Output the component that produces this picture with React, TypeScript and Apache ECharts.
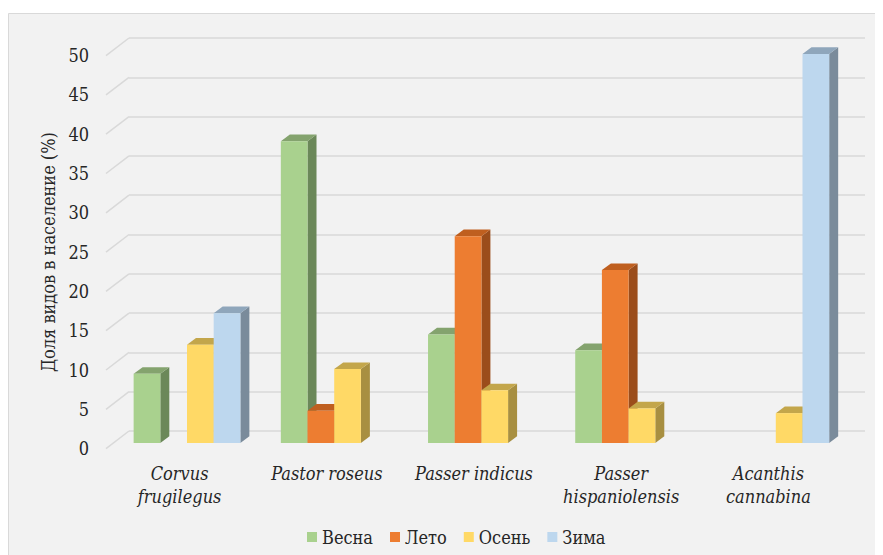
import React, { useEffect, useRef } from "react";
import * as echarts from "echarts";

// Species (two-line labels where the name wraps)
const categories = [
  "Corvus\nfrugilegus",
  "Pastor roseus",
  "Passer indicus",
  "Passer\nhispaniolensis",
  "Acanthis\ncannabina",
];

const seasons = ["Весна", "Лето", "Осень", "Зима"];

// Share of species in the population, %, per season
const spring = [8.8, 38.4, 13.8, 11.8, null];
const summer = [null, 4.1, 26.3, 22.0, null];
const autumn = [12.5, 9.4, 6.7, 4.4, 3.8];
const winter = [16.5, null, null, null, 49.5];

const yTicks = [0, 5, 10, 15, 20, 25, 30, 35, 40, 45, 50];

const seasonValues = [spring, summer, autumn, winter];

// face colours: front, top, side
const faceColors = [
  { front: "#A9D18E", top: "#84A36E", side: "#6B8859" },
  { front: "#ED7D31", top: "#BF5F1F", side: "#9B4D1B" },
  { front: "#FFD966", top: "#C3A64B", side: "#A88F41" },
  { front: "#BDD7EE", top: "#8FA6BB", side: "#7A8B9B" },
];

// oblique projection of the chart box
const WALL_DX = 23; // back wall -> front edge, horizontal
const WALL_DY = 17.6; // back wall -> front edge, vertical
const BAR_SHIFT_X = 15.6; // back wall -> bar front faces
const BAR_SHIFT_Y = 12;
const BAR_DEPTH_X = 9;
const BAR_DEPTH_Y = 6.7;
const BAR_RATIO = 0.1813;

const FONT = "'DejaVu Serif Condensed', 'DejaVu Serif', serif";
const FONT_SIZE = 18;
const TEXT = "#262626";

export default function App() {
  const ref = useRef<HTMLDivElement>(null);

  useEffect(() => {
    if (!ref.current) return;
    const chart = echarts.init(ref.current, null, { renderer: "svg" });

    const barSeries = seasonValues.map((vals, si) => ({
      name: seasons[si],
      type: "custom",
      xAxisIndex: 0,
      yAxisIndex: 0,
      silent: true,
      itemStyle: { color: faceColors[si].front },
      data: vals
        .map((v, i) => (v == null ? null : [i, v]))
        .filter((d) => d !== null),
      renderItem: (params: any, api: any) => {
        const cat = api.value(0);
        const v = api.value(1);
        const top = api.coord([cat, v]);
        const base = api.coord([cat, 0]);
        const band = api.size([1, 0])[0];
        const w = band * BAR_RATIO;
        const x = top[0] - BAR_SHIFT_X + (si - 2) * w;
        const yTop = top[1] + BAR_SHIFT_Y;
        const yBot = base[1] + BAR_SHIFT_Y;
        const c = faceColors[si];
        return {
          type: "group",
          children: [
            {
              type: "polygon",
              shape: {
                points: [
                  [x + w, yTop],
                  [x + w + BAR_DEPTH_X, yTop - BAR_DEPTH_Y],
                  [x + w + BAR_DEPTH_X, yBot - BAR_DEPTH_Y],
                  [x + w, yBot],
                ],
              },
              style: { fill: c.side },
            },
            {
              type: "polygon",
              shape: {
                points: [
                  [x, yTop],
                  [x + BAR_DEPTH_X, yTop - BAR_DEPTH_Y],
                  [x + w + BAR_DEPTH_X, yTop - BAR_DEPTH_Y],
                  [x + w, yTop],
                ],
              },
              style: { fill: c.top },
            },
            {
              type: "rect",
              shape: { x, y: yTop, width: w, height: yBot - yTop },
              style: { fill: c.front },
            },
          ],
        };
      },
    }));

    // slanted side-wall lines joining each gridline to its tick label
    const wallSeries = {
      name: "wall",
      type: "custom",
      xAxisIndex: 0,
      yAxisIndex: 0,
      silent: true,
      z: 1,
      data: yTicks.map((t) => [0, t]),
      renderItem: (params: any, api: any) => {
        const p = api.coord([0, api.value(1)]);
        const x0 = params.coordSys.x;
        return {
          type: "line",
          shape: { x1: x0, y1: p[1], x2: x0 - WALL_DX, y2: p[1] + WALL_DY },
          style: { stroke: "#D9D9D9", lineWidth: 1.5 },
        };
      },
    };

    chart.setOption({
      animation: false,
      backgroundColor: "#FFFFFF",
      graphic: [
        {
          type: "rect",
          z: -10,
          shape: { x: 0.5, y: 5.5, width: 900, height: 600 },
          style: { fill: "#F2F2F2", stroke: "#D9D9D9", lineWidth: 1 },
        },
      ],
      grid: [
        // back wall
        { left: 121, right: 18, top: 30, bottom: 124 },
        // front edge (labels)
        { left: 98, right: 41, top: 47.6, bottom: 106.4 },
      ],
      xAxis: [
        {
          gridIndex: 0,
          type: "category",
          data: categories,
          axisLine: { show: false },
          axisTick: { show: false },
          axisLabel: { show: false },
        },
        {
          gridIndex: 1,
          type: "category",
          data: categories,
          axisLine: { show: false },
          axisTick: { show: false },
          axisLabel: {
            margin: 13,
            fontFamily: FONT,
            fontStyle: "italic",
            fontSize: FONT_SIZE,
            lineHeight: 23,
            color: TEXT,
            interval: 0,
          },
        },
      ],
      yAxis: [
        {
          gridIndex: 0,
          type: "value",
          min: 0,
          max: 50,
          interval: 5,
          axisLine: { show: false },
          axisTick: { show: false },
          axisLabel: { show: false },
          splitLine: { lineStyle: { color: "#D9D9D9", width: 1.5 } },
        },
        {
          gridIndex: 1,
          type: "value",
          min: 0,
          max: 50,
          interval: 5,
          axisLine: { show: false },
          axisTick: { show: false },
          splitLine: { show: false },
          axisLabel: {
            margin: 17,
            fontFamily: FONT,
            fontSize: FONT_SIZE,
            color: TEXT,
          },
          name: "Доля видов в население (%)",
          nameLocation: "middle",
          nameRotate: 90,
          nameGap: 42,
          nameTextStyle: { fontFamily: FONT, fontSize: FONT_SIZE, color: TEXT },
        },
      ],
      legend: {
        data: seasons,
        top: 515,
        left: 294,
        icon: "rect",
        itemWidth: 10,
        itemHeight: 10,
        itemGap: 17,
        textStyle: { fontFamily: FONT, fontSize: FONT_SIZE, color: TEXT },
      },
      series: [wallSeries, ...barSeries],
    });

    return () => chart.dispose();
  }, []);

  return <div ref={ref} style={{ width: 875, height: 547 }} />;
}
